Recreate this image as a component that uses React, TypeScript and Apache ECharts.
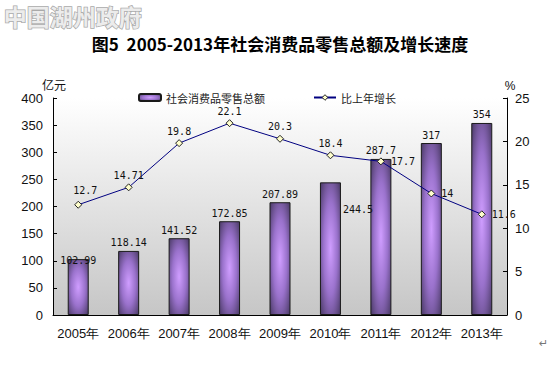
import React, { useEffect, useRef } from "react";
import * as echarts from "echarts";

const years = ["2005年", "2006年", "2007年", "2008年", "2009年", "2010年", "2011年", "2012年", "2013年"];
const salesValues = [102.99, 118.14, 141.52, 172.85, 207.89, 244.5, 287.7, 317, 354];
const growthValues = [12.7, 14.71, 19.8, 22.1, 20.3, 18.4, 17.7, 14, 11.6];
const leftTicks = [0, 400, 50];
const rightTicks = [0, 25, 5];

const monoFont = "DejaVu Sans Mono";

export default function App() {
  const ref = useRef<HTMLDivElement>(null);
  useEffect(() => {
    document.body.style.margin = "0";
    if (!ref.current) return;
    const chart = echarts.init(ref.current, undefined, { renderer: "svg" });
    const barFill = new echarts.graphic.RadialGradient(0.5, 0.5, 0.7, [
      { offset: 0, color: "#cf9dff" },
      { offset: 0.5, color: "#9a72cc" },
      { offset: 1, color: "#4a3a66" },
    ]);
    const barData = salesValues.map((v, i) => {
      if (i === 0) return { value: v, label: { position: "top", distance: -6 } };
      if (i === 5) return { value: v, label: { position: [23, 22] } };
      return v;
    });
    const lineData = growthValues.map((v, i) => {
      if (i === 0) return { value: v, label: { offset: [7, -2] } };
      if (i >= 6) return { value: v, label: { position: "right", distance: 6 } };
      return v;
    });
    chart.setOption({
      animation: false,
      backgroundColor: "#ffffff",
      textStyle: { fontFamily: "Liberation Sans" },
      graphic: [
        {
          type: "text",
          left: 3,
          top: 4,
          style: {
            text: "中国湖州政府",
            font: "bold 23px 'Noto Sans CJK SC'",
            fill: "#ececec",
            stroke: "#a9a9a9",
            lineWidth: 1.5,
          },
        },
        {
          type: "text",
          left: "center",
          top: 35,
          style: {
            text: "图5  2005-2013年社会消费品零售总额及增长速度",
            font: "bold 17px 'Noto Sans CJK SC'",
            fill: "#000",
          },
        },
        {
          type: "text",
          left: 539,
          top: 338,
          style: { text: "↵", font: "11px 'DejaVu Sans'", fill: "#777" },
        },
      ],
      legend: {
        left: 133,
        top: 87,
        itemWidth: 22,
        itemHeight: 7,
        itemGap: 48,
        textStyle: { fontSize: 11, color: "#222", fontFamily: "Noto Sans CJK SC" },
        data: [
          "社会消费品零售总额",
          { name: "比上年增长", itemStyle: { color: "#ffffcc", borderColor: "#222", borderWidth: 1 } },
        ],
      },
      grid: {
        left: 53,
        right: 53,
        top: 98,
        bottom: 53,
        show: true,
        borderWidth: 0,
        backgroundColor: new echarts.graphic.LinearGradient(0, 0, 0, 1, [
          { offset: 0, color: "#ffffff" },
          { offset: 1, color: "#c6c6c6" },
        ]),
      },
      xAxis: {
        type: "category",
        data: years,
        axisLine: { lineStyle: { color: "#000", width: 1 } },
        axisTick: { inside: true, length: 4, lineStyle: { color: "#000" } },
        axisLabel: { fontSize: 13, color: "#111", margin: 12, interval: 0 },
      },
      yAxis: [
        {
          type: "value",
          min: leftTicks[0],
          max: leftTicks[1],
          interval: leftTicks[2],
          name: "亿元",
          nameGap: 8,
          nameTextStyle: { fontSize: 12, color: "#111", fontFamily: "Noto Sans CJK SC", padding: [0, 0, 0, 2] },
          axisLine: { show: true, lineStyle: { color: "#000" } },
          axisTick: { show: true, inside: true, length: 4, lineStyle: { color: "#000" } },
          axisLabel: { fontSize: 13, color: "#111", margin: 10 },
          splitLine: { show: false },
        },
        {
          type: "value",
          min: rightTicks[0],
          max: rightTicks[1],
          interval: rightTicks[2],
          name: "%",
          nameGap: 6,
          nameTextStyle: { fontSize: 12, color: "#111", padding: [0, 0, 0, 6] },
          axisLine: { show: true, lineStyle: { color: "#000" } },
          axisTick: { show: true, inside: true, length: 4, lineStyle: { color: "#000" } },
          axisLabel: { fontSize: 13, color: "#111", margin: 8 },
          splitLine: { show: false },
        },
      ],
      series: [
        {
          name: "社会消费品零售总额",
          type: "bar",
          yAxisIndex: 0,
          barWidth: 21,
          data: barData,
          itemStyle: { color: barFill, borderColor: "#1a1a1a", borderWidth: 1 },
          label: {
            show: true,
            position: "top",
            distance: 3,
            fontFamily: monoFont,
            fontSize: 10,
            color: "#111",
          },
        },
        {
          name: "比上年增长",
          type: "line",
          yAxisIndex: 1,
          data: lineData,
          symbol: "diamond",
          symbolSize: 7,
          lineStyle: { color: "#000080", width: 1 },
          itemStyle: { color: "#ffffcc", borderColor: "#222", borderWidth: 1 },
          label: {
            show: true,
            position: "top",
            distance: 3,
            fontFamily: monoFont,
            fontSize: 10,
            color: "#111",
          },
          z: 5,
        },
      ],
    });
    return () => chart.dispose();
  }, []);
  return <div ref={ref} style={{ width: 560, height: 368 }} />;
}
